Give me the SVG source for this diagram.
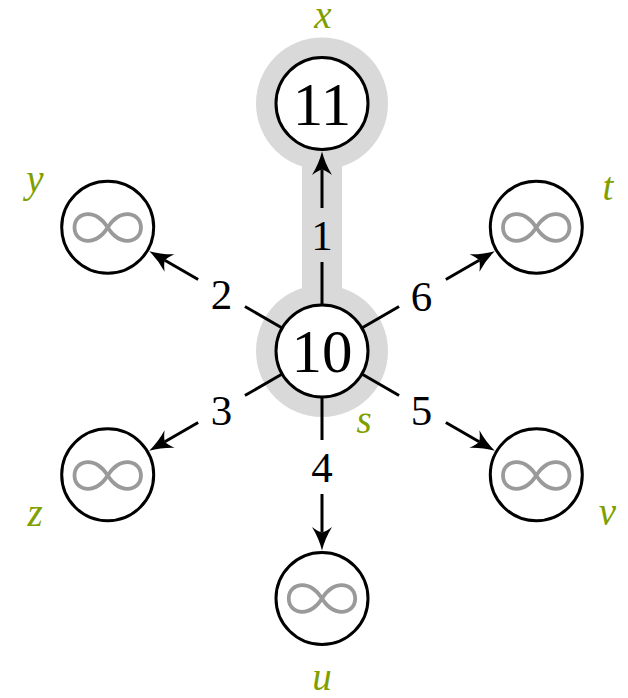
<svg xmlns="http://www.w3.org/2000/svg" width="628" height="698" viewBox="0 0 628 698">
<style>
.node circle{fill:#fff;stroke:#000;stroke-width:3}
.val{font-family:"Liberation Serif",serif;font-size:61px;fill:#000;text-anchor:middle}
.inf{font-family:"Noto Sans CJK SC",sans-serif;font-weight:300;font-size:76px;fill:#9a9a9a;text-anchor:middle}
.name{font-family:"Liberation Serif",serif;font-style:italic;font-size:39px;fill:#7f9f00;text-anchor:middle}
.edges line{stroke:#000;stroke-width:3;fill:none}
.elab{font-family:"Liberation Serif",serif;font-size:43px;fill:#000;text-anchor:middle}
</style>
<defs>
<marker id="arr" markerUnits="userSpaceOnUse" viewBox="-8 -12 28 24" refX="0" refY="0" markerWidth="28" markerHeight="24" orient="auto">
<path d="M18,0 Q6,3 -5.5,10 Q-1,4 0,0 Q-1,-4 -5.5,-10 Q6,-3 18,0 Z" fill="#000"/>
</marker>
</defs>
<g id="highlight" fill="#d9d9d9">
<circle cx="322" cy="351" r="66"/>
<circle cx="322" cy="103.5" r="66"/>
<rect x="302" y="103.5" width="40" height="247.5"/>
</g>
<g id="connectors" class="edges">
<line x1="322" y1="305" x2="322" y2="262"/>
<line x1="322" y1="208" x2="322" y2="169.5" marker-end="url(#arr)"/>
<line x1="322" y1="397" x2="322" y2="440"/>
<line x1="322" y1="494" x2="322" y2="532.5" marker-end="url(#arr)"/>
<line x1="282.16" y1="328" x2="244.93" y2="306.5"/>
<line x1="198.16" y1="279.5" x2="164.82" y2="260.25" marker-end="url(#arr)"/>
<line x1="282.16" y1="374" x2="244.93" y2="395.5"/>
<line x1="198.16" y1="422.5" x2="164.82" y2="441.75" marker-end="url(#arr)"/>
<line x1="361.84" y1="374" x2="399.07" y2="395.5"/>
<line x1="445.84" y1="422.5" x2="479.18" y2="441.75" marker-end="url(#arr)"/>
<line x1="361.84" y1="328" x2="399.07" y2="306.5"/>
<line x1="445.84" y1="279.5" x2="479.18" y2="260.25" marker-end="url(#arr)"/>
<text class="elab" x="322" y="250">1</text>
<text class="elab" x="221.5" y="309">2</text>
<text class="elab" x="221.5" y="424.5">3</text>
<text class="elab" x="322" y="482">4</text>
<text class="elab" x="421.5" y="424.5">5</text>
<text class="elab" x="421.5" y="311">6</text>
</g>
<g id="node-s" class="node">
<circle cx="322" cy="351" r="46"/>
<text class="val" x="322" y="372">10</text>
<text class="name" x="364" y="433">s</text>
</g>
<g id="node-x" class="node">
<circle cx="322" cy="103.5" r="46"/>
<text class="val" x="322" y="125">11</text>
<text class="name" x="323" y="28">x</text>
</g>
<g id="node-y" class="node">
<circle cx="107.7" cy="227.25" r="46"/>
<text class="inf" x="107.7" y="256">∞</text>
<text class="name" x="35" y="192">y</text>
</g>
<g id="node-t" class="node">
<circle cx="536.3" cy="227.25" r="46"/>
<text class="inf" x="536.3" y="256">∞</text>
<text class="name" x="608" y="200">t</text>
</g>
<g id="node-z" class="node">
<circle cx="107.7" cy="474.75" r="46"/>
<text class="inf" x="107.7" y="503.5">∞</text>
<text class="name" x="35" y="526">z</text>
</g>
<g id="node-v" class="node">
<circle cx="536.3" cy="474.75" r="46"/>
<text class="inf" x="536.3" y="503.5">∞</text>
<text class="name" x="607.5" y="525">v</text>
</g>
<g id="node-u" class="node">
<circle cx="322" cy="598.5" r="46"/>
<text class="inf" x="322" y="627.25">∞</text>
<text class="name" x="322" y="690">u</text>
</g>
</svg>
